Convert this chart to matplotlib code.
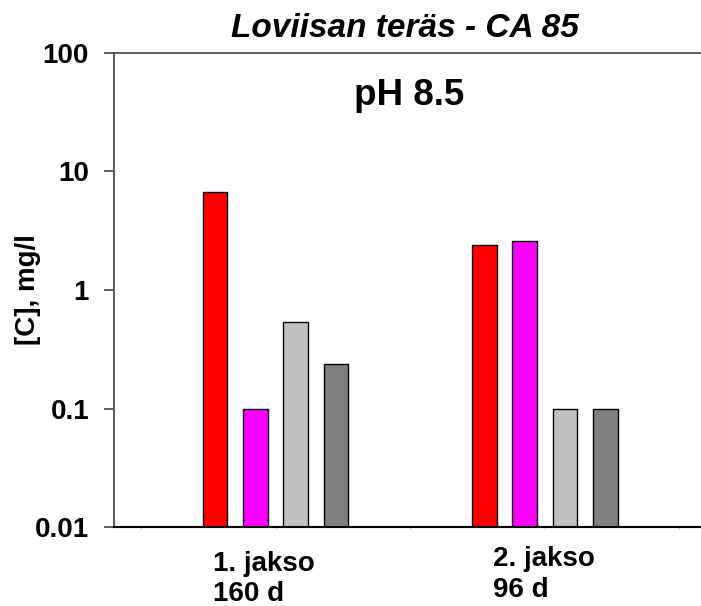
import numpy as np
import matplotlib
matplotlib.use("Agg")
import matplotlib.pyplot as plt

plt.rcParams['font.family'] = ['Liberation Sans', 'DejaVu Sans']
plt.rcParams['font.weight'] = 'bold'

# data
groups = ["1. jakso\n160 d", "2. jakso\n96 d"]
red_vals = [6.7, 2.4]
magenta_vals = [0.1, 2.6]
lightgray_vals = [0.54, 0.1]
darkgray_vals = [0.24, 0.1]
series = [red_vals, magenta_vals, lightgray_vals, darkgray_vals]
colors = ["#ff0000", "#ff00ff", "#c0c0c0", "#808080"]

W, H = 701, 606
fig = plt.figure(figsize=(W / 100, H / 100), dpi=100)
# axes runs a bit past the right edge like in the original
ax = fig.add_axes([114 / W, (H - 527.3) / H, (706.4 - 114) / W, (527.3 - 52.6) / H])

base = 0.01  # bars start at the bottom of the log axis
x = np.arange(1, len(groups) + 1)
offsets = [-0.2247, -0.075, 0.075, 0.2247]
width = 0.0914
for vals, off, c in zip(series, offsets, colors):
    ax.bar(x + off, np.array(vals) - base, width, bottom=base, color=c,
           edgecolor="black", linewidth=1.0)

ax.set_yscale("log")
ax.set_ylim(0.01, 100)
ax.set_xlim(0.4, 2.6)
ax.set_yticks([0.01, 0.1, 1, 10, 100])
ax.set_yticklabels(["0.01", "0.1", "1", "10", "100"], fontsize=20, fontweight="bold")
ax.yaxis.set_minor_locator(matplotlib.ticker.NullLocator())
ax.tick_params(axis="y", direction="out", length=7, width=1.2, color="#404040", pad=11)
ax.set_xticks([0.5, 1.0, 1.5, 2.0, 2.5])
ax.set_xticklabels([])
ax.tick_params(axis="x", direction="inout", length=3, width=0.8, color="#c8c8c8")

ax.spines["right"].set_visible(False)
ax.spines["left"].set_color("#606060")
ax.spines["left"].set_linewidth(1.5)
ax.spines["bottom"].set_color("black")
ax.spines["bottom"].set_linewidth(1.5)
ax.spines["top"].set_color("#404040")
ax.spines["top"].set_linewidth(1.2)

# category labels (left aligned lines, as in the source)
label_x = [0.769, 1.807]
label_y = [(-0.0930, -0.1550), (-0.0820, -0.1460)]
for g, lx, (y1, y2) in zip(groups, label_x, label_y):
    line1, line2 = g.split("\n")
    ax.text(lx, y1, line1, transform=ax.get_xaxis_transform(), ha="left", va="baseline",
            fontsize=20, fontweight="bold")
    ax.text(lx, y2, line2, transform=ax.get_xaxis_transform(), ha="left", va="baseline",
            fontsize=20, fontweight="bold")

fig.text(405 / W, (H - 36.7) / H, "Loviisan teräs - CA 85", ha="center", va="baseline",
         fontsize=24, fontweight="bold", fontstyle="italic")
fig.text(408.7 / W, (H - 105) / H, "pH 8.5", ha="center", va="baseline",
         fontsize=26.5, fontweight="bold")
fig.text(28 / W, (H - 289.7) / H, "[C], mg/l", rotation=90, ha="center", va="center",
         fontsize=20, fontweight="bold")

fig.savefig("out.png", dpi=100)
